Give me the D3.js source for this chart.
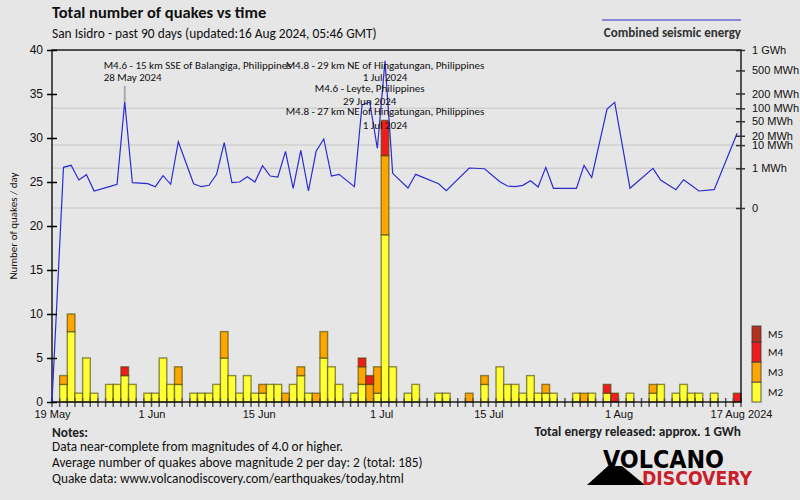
<!DOCTYPE html>
<html>
<head>
<meta charset="utf-8">
<script src="https://cdn.jsdelivr.net/npm/d3@7"></script>
<style>
  body { margin: 0; background: #e6e6e6; }
  svg { display: block; font-family: Carlito, Lato, sans-serif; }
</style>
</head>
<body>
<div id="chart"></div>
<script>
// day 0 = 19 May 2024, one entry per day
const startDay = new Date(Date.UTC(2024, 4, 19));
const dayCount = 90;

// quakes per day by magnitude class
const m2Counts = [
  0,2,8,1,5,1,0,2,2,3, 2,0,1,1,5,2,2,0,1,1, 1,2,5,3,1,3,1,1,2,2,
  0,2,3,1,0,5,4,2,0,1, 2,0,1,19,4,0,1,2,0,0, 1,1,0,0,0,0,2,0,4,2,
  2,1,3,1,1,1,0,0,1,0, 1,0,1,0,0,1,0,0,1,2, 0,1,2,1,1,0,1,0,0,0
];
const m3Counts = [
  0,1,2,0,0,0,0,0,0,0, 0,0,0,0,0,0,2,0,0,0, 0,0,3,0,0,0,0,1,0,0,
  1,0,1,0,1,3,0,0,0,0, 2,2,3,9,0,0,0,0,0,0, 0,0,0,0,1,0,1,0,0,0,
  0,0,0,0,1,0,0,0,0,1, 0,0,0,0,0,0,0,0,1,0, 0,0,0,0,0,0,0,0,0,0
];
const m4Counts = [
  0,0,0,0,0,0,0,0,0,1, 0,0,0,0,0,0,0,0,0,0, 0,0,0,0,0,0,0,0,0,0,
  0,0,0,0,0,0,0,0,0,0, 1,1,0,4,0,0,0,0,0,0, 0,0,0,0,0,0,0,0,0,0,
  0,0,0,0,0,0,0,0,0,0, 0,0,1,1,0,0,0,0,0,0, 0,0,0,0,0,0,0,0,0,1
];

// combined seismic energy per day, MWh (null = no quakes that day)
const energyMWh = [
  null,1.13,1.44,0.175,0.416,0.0144,null,0.0455,0.076,138,
  0.105,null,0.086,0.0445,0.357,0.076,13.0,null,0.086,0.0445,
  0.061,0.44,12.1,0.105,0.121,0.305,0.121,1.375,0.34,0.29,
  5.95,0.030,6.5,0.0144,5.95,15.9,0.34,0.44,null,0.0445,
  118,136,7.7,700,0.51,null,0.0325,0.44,null,null,
  0.086,0.0157,null,null,1.04,null,0.95,null,0.128,0.052,
  0.0445,0.061,0.154,0.0415,1.13,0.030,null,null,0.030,1.44,
  0.27,null,96.6,134,null,0.030,null,null,1.0,0.175,
  null,0.021,0.184,0.061,0.0144,null,0.021,null,null,23.6
];

const xLabelDates = [
  new Date(Date.UTC(2024, 4, 19)), new Date(Date.UTC(2024, 5, 1)),
  new Date(Date.UTC(2024, 5, 15)), new Date(Date.UTC(2024, 6, 1)),
  new Date(Date.UTC(2024, 6, 15)), new Date(Date.UTC(2024, 7, 1)),
  new Date(Date.UTC(2024, 7, 17))
];
const xLabels = ['19 May', '1 Jun', '15 Jun', '1 Jul', '15 Jul', '1 Aug', '17 Aug 2024'];
const countTicks = [0, 5, 10, 15, 20, 25, 30, 35, 40];
const energyTicks = [0, 1, 10, 20, 50, 100, 200, 500, 1000];
const energyTickLabels = ['0', '1 MWh', '10 MWh', '20 MWh', '50 MWh', '100 MWh', '200 MWh', '500 MWh', '1 GWh'];
const energyGrid = [0, 1, 10, 100];

const magLabels = ['M2', 'M3', 'M4', 'M5'];
const magColors = ['#ffff33', '#ffa500', '#ee1c1c', '#b5301f'];

const annotations = [
  { day: 9, title: 'M4.6 - 15 km SSE of Balangiga, Philippines', date: '28 May 2024', row: 0, anchor: 'start' },
  { day: 43, title: 'M4.8 - 29 km NE of Hingatungan, Philippines', date: '1 Jul 2024', row: 0, anchor: 'middle' },
  { day: 41, title: 'M4.6 - Leyte, Philippines', date: '29 Jun 2024', row: 1, anchor: 'middle' },
  { day: 43, title: 'M4.8 - 27 km NE of Hingatungan, Philippines', date: '1 Jul 2024', row: 2, anchor: 'middle' }
];

const margin = { left: 52, right: 59, top: 50, bottom: 98 };
const width = 800, height = 500;
const plotRight = width - margin.right;
const plotBottom = height - margin.bottom;

const svg = d3.select('#chart')
  .append('svg')
  .attr('width', width)
  .attr('height', height);

svg.append('rect').attr('width', width).attr('height', height).attr('fill', '#e6e6e6');

// Scales
const endDay = d3.utcDay.offset(startDay, dayCount);
const x = d3.scaleUtc().domain([startDay, endDay]).range([margin.left, plotRight]);
const yCount = d3.scaleLinear().domain([0, 40]).range([plotBottom, margin.top]);
const yEnergy = d3.scalePow().exponent(0.2).domain([0, 1000]).range([208, margin.top]);

// Energy grid lines
svg.append('g')
  .selectAll('line')
  .data(energyGrid)
  .enter()
  .append('line')
  .attr('x1', margin.left).attr('x2', plotRight)
  .attr('y1', d => yEnergy(d)).attr('y2', d => yEnergy(d))
  .attr('stroke', '#d0d0d0')
  .attr('stroke-width', 1.5);

// Stacked bars
const days = d3.range(dayCount).map(i => ({
  day: d3.utcDay.offset(startDay, i),
  m2: m2Counts[i], m3: m3Counts[i], m4: m4Counts[i]
}));
const stacked = d3.stack().keys(['m2', 'm3', 'm4'])(days);

svg.append('g')
  .selectAll('g')
  .data(stacked)
  .enter()
  .append('g')
  .attr('fill', (d, i) => magColors[i])
  .selectAll('rect')
  .data(d => d.filter(v => v[1] > v[0]))
  .enter()
  .append('rect')
  .attr('x', d => x(d.data.day))
  .attr('width', d => x(d3.utcDay.offset(d.data.day, 1)) - x(d.data.day))
  .attr('y', d => yCount(d[1]))
  .attr('height', d => yCount(d[0]) - yCount(d[1]))
  .attr('stroke', 'rgba(70,70,0,0.6)')
  .attr('stroke-width', 1.4);

// Day ticks on the time axis
svg.append('g')
  .selectAll('line')
  .data(d3.utcDay.range(startDay, d3.utcDay.offset(endDay, 1)))
  .enter()
  .append('line')
  .attr('x1', d => x(d)).attr('x2', d => x(d))
  .attr('y1', plotBottom - 4).attr('y2', plotBottom + 5)
  .attr('stroke', '#555')
  .attr('stroke-width', 1.5);

// Frame
svg.append('rect')
  .attr('x', margin.left).attr('y', margin.top)
  .attr('width', plotRight - margin.left).attr('height', plotBottom - margin.top)
  .attr('fill', 'none')
  .attr('stroke', '#000')
  .attr('stroke-width', 1.3);

// Energy line
const energyPoints = [{ x: x(startDay), y: yCount(0) }];
energyMWh.forEach((e, i) => {
  if (e !== null) {
    energyPoints.push({ x: x(d3.utcHour.offset(d3.utcDay.offset(startDay, i), 12)), y: yEnergy(e) });
  }
});
svg.append('path')
  .datum(energyPoints)
  .attr('d', d3.line().x(d => d.x).y(d => d.y))
  .attr('fill', 'none')
  .attr('stroke', '#2b2bd0')
  .attr('stroke-width', 1.2);

// Left axis
const axisLeft = svg.append('g')
  .attr('transform', 'translate(' + margin.left + ',0)')
  .call(d3.axisLeft(yCount).tickValues(countTicks).tickSizeInner(5).tickSizeOuter(0).tickPadding(4));
axisLeft.select('.domain').remove();
axisLeft.selectAll('.tick line').attr('x1', 5).attr('stroke-width', 1.5);
axisLeft.selectAll('text').attr('font-size', 12).attr('fill', '#111').attr('font-family', null);

// Right axis (energy)
const axisRight = svg.append('g')
  .attr('transform', 'translate(' + plotRight + ',0)')
  .call(d3.axisRight(yEnergy).tickValues(energyTicks)
    .tickFormat((d, i) => energyTickLabels[i]).tickSizeInner(4).tickSizeOuter(0).tickPadding(7));
axisRight.select('.domain').remove();
axisRight.selectAll('.tick line').attr('x1', -5).attr('stroke', '#333').attr('stroke-width', 1.5);
axisRight.selectAll('text').attr('font-size', 11).attr('fill', '#111').attr('font-family', null);

// Bottom labels
const axisBottom = svg.append('g')
  .attr('transform', 'translate(0,' + plotBottom + ')')
  .call(d3.axisBottom(x).tickValues(xLabelDates).tickFormat((d, i) => xLabels[i]).tickSize(0).tickPadding(8));
axisBottom.select('.domain').remove();
axisBottom.selectAll('text').attr('font-size', 11).attr('fill', '#111').attr('font-family', null);

// Y axis title
svg.append('text')
  .attr('transform', 'translate(17,226) rotate(-90)')
  .attr('text-anchor', 'middle')
  .attr('font-size', 11)
  .attr('fill', '#111')
  .text('Number of quakes / day');

// Annotations
const annoRows = [[69, 81], [92, 105], [115, 129]];
annotations.forEach(a => {
  const cx = x(d3.utcHour.offset(d3.utcDay.offset(startDay, a.day), 12));
  const tx = a.anchor === 'start' ? cx - 21 : cx;
  const rows = annoRows[a.row];
  const peak = yEnergy(energyMWh[a.day]);
  if (peak > rows[1] + 5) {
    svg.append('line')
      .attr('x1', cx).attr('x2', cx)
      .attr('y1', rows[1] + 5).attr('y2', peak)
      .attr('stroke', '#aaa').attr('stroke-width', 2);
  }
  svg.append('text')
    .attr('x', tx).attr('y', rows[0])
    .attr('text-anchor', a.anchor)
    .attr('font-size', 11).attr('fill', '#111')
    .text(a.title);
  svg.append('text')
    .attr('x', tx).attr('y', rows[1])
    .attr('text-anchor', a.anchor)
    .attr('font-size', 11).attr('fill', '#111')
    .text(a.date);
});

// Titles
svg.append('text').attr('x', 52).attr('y', 18)
  .attr('font-size', 16.5).attr('font-weight', 'bold').attr('fill', '#111')
  .text('Total number of quakes vs time');
svg.append('text').attr('x', 52).attr('y', 38)
  .attr('font-size', 13.4).attr('fill', '#111')
  .text('San Isidro - past 90 days (updated:16 Aug 2024, 05:46 GMT)');

// Energy legend
svg.append('line')
  .attr('x1', 602).attr('x2', plotRight).attr('y1', 20).attr('y2', 20)
  .attr('stroke', '#2b2bd0').attr('stroke-width', 1.2);
svg.append('text').attr('x', plotRight).attr('y', 37)
  .attr('text-anchor', 'end')
  .attr('font-size', 13).attr('font-weight', 'bold').attr('fill', '#333')
  .text('Combined seismic energy');

// Magnitude legend
const legendHeights = [20, 20, 20, 16];
let legendY = plotBottom;
magLabels.forEach((m, i) => {
  legendY -= legendHeights[i];
  svg.append('rect')
    .attr('x', 752).attr('y', legendY)
    .attr('width', 9).attr('height', legendHeights[i])
    .attr('fill', magColors[i])
    .attr('stroke', 'rgba(60,60,60,0.7)').attr('stroke-width', 1.2);
  svg.append('text')
    .attr('x', 768).attr('y', legendY + legendHeights[i] / 2 + 4)
    .attr('font-size', 11).attr('fill', '#111')
    .text(m);
});

// Notes
const notes = [
  'Data near-complete from magnitudes of 4.0 or higher.',
  'Average number of quakes above magnitude 2 per day: 2 (total: 185)',
  'Quake data: www.volcanodiscovery.com/earthquakes/today.html'
];
svg.append('text').attr('x', 52).attr('y', 437)
  .attr('font-size', 13.3).attr('font-weight', 'bold').attr('fill', '#222')
  .text('Notes:');
notes.forEach((n, i) => {
  svg.append('text').attr('x', 52).attr('y', 451 + i * 16)
    .attr('font-size', 13.3).attr('fill', '#111')
    .text(n);
});
svg.append('text').attr('x', plotRight).attr('y', 436)
  .attr('text-anchor', 'end')
  .attr('font-size', 13.3).attr('font-weight', 'bold').attr('fill', '#222')
  .text('Total energy released: approx. 1 GWh');

// Logo
const logo = svg.append('g').attr('font-family', "'Liberation Sans Narrow', 'DejaVu Sans Condensed', sans-serif").attr('font-weight', 'bold');
logo.append('polygon')
  .attr('points', '587,485 608,466 622,466 645,485')
  .attr('fill', '#000');
logo.append('text').attr('x', 603).attr('y', 468)
  .attr('font-size', 24).attr('fill', '#000')
  .attr('textLength', 121).attr('lengthAdjust', 'spacingAndGlyphs')
  .text('VOLCANO');
logo.append('text').attr('x', 642).attr('y', 485)
  .attr('font-size', 20).attr('fill', '#c8202a')
  .attr('textLength', 110).attr('lengthAdjust', 'spacingAndGlyphs')
  .text('DISCOVERY');
</script>
</body>
</html>
